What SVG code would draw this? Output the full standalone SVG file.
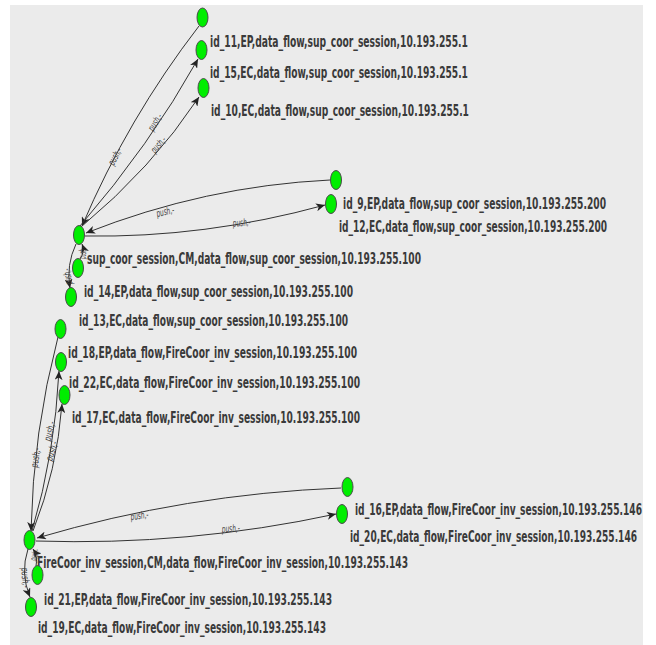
<svg xmlns="http://www.w3.org/2000/svg" width="656" height="645" viewBox="0 0 656 645">
<defs>
<style>
.bg{fill:#ebebeb}
.node{fill:#00ee00;stroke:#4a4a4a;stroke-width:1}
.lbl{font-family:"DejaVu Sans Condensed","DejaVu Sans",sans-serif;font-weight:bold;font-size:15px;fill:#3a3a3a}
.edge{fill:none;stroke:#333;stroke-width:1}
.el{font-family:"DejaVu Sans",sans-serif;font-size:10px;fill:#3a3a3a;font-style:italic}
</style>
<marker id="arr" markerWidth="9" markerHeight="8" refX="9" refY="4" orient="auto" markerUnits="userSpaceOnUse">
<path d="M0,0 L9,4 L0,8 L2.5,4 z" fill="#222"/>
</marker>
</defs>
<rect x="0" y="0" width="656" height="645" fill="#ffffff"/>
<rect class="bg" x="10" y="5" width="633" height="640"/>

<g id="connectors">
<path class="edge" d="M199,26 Q128,118 82,226" marker-end="url(#arr)"/>
<path class="edge" d="M80,226 Q150,145 198,59" marker-end="url(#arr)"/>
<path class="edge" d="M81,227 Q152,168 199,97" marker-end="url(#arr)"/>
<path class="edge" d="M330,180 Q205,186 86,233" marker-end="url(#arr)"/>
<path class="edge" d="M85,236 Q205,238 325,205" marker-end="url(#arr)"/>
<path class="edge" d="M80,259 Q85,252 82,244" marker-end="url(#arr)"/>
<path class="edge" d="M76,244 Q66,265 70,288" marker-end="url(#arr)"/>
<path class="edge" d="M58,337 Q33,432 31,531" marker-end="url(#arr)"/>
<path class="edge" d="M32,531 Q55,453 59,371" marker-end="url(#arr)"/>
<path class="edge" d="M33,531 Q57,470 62,404" marker-end="url(#arr)"/>
<path class="edge" d="M341,488 Q186,494 37,538" marker-end="url(#arr)"/>
<path class="edge" d="M36,541 Q188,546 336,514" marker-end="url(#arr)"/>
<path class="edge" d="M36,566 Q38,556 33,549" marker-end="url(#arr)"/>
<path class="edge" d="M28,549 Q20,573 30,597" marker-end="url(#arr)"/>
<text class="el" transform="translate(118,158) rotate(-62)" text-anchor="middle" textLength="18" lengthAdjust="spacingAndGlyphs">push,-</text>
<text class="el" transform="translate(158,124) rotate(-58)" text-anchor="middle" textLength="18" lengthAdjust="spacingAndGlyphs">push,-</text>
<text class="el" transform="translate(161,147) rotate(-50)" text-anchor="middle" textLength="18" lengthAdjust="spacingAndGlyphs">push,-</text>
<text class="el" transform="translate(166,215) rotate(-13)" text-anchor="middle" textLength="18" lengthAdjust="spacingAndGlyphs">push,-</text>
<text class="el" transform="translate(242,226) rotate(-5)" text-anchor="middle" textLength="18" lengthAdjust="spacingAndGlyphs">push,-</text>
<text class="el" transform="translate(86,253) rotate(-85)" text-anchor="middle" textLength="12" lengthAdjust="spacingAndGlyphs">push,-</text>
<text class="el" transform="translate(71,276) rotate(-100)" text-anchor="middle" textLength="16" lengthAdjust="spacingAndGlyphs">push,-</text>
<text class="el" transform="translate(39,458) rotate(-82)" text-anchor="middle" textLength="20" lengthAdjust="spacingAndGlyphs">push,-</text>
<text class="el" transform="translate(53,432) rotate(-76)" text-anchor="middle" textLength="20" lengthAdjust="spacingAndGlyphs">push,-</text>
<text class="el" transform="translate(55,452) rotate(-72)" text-anchor="middle" textLength="20" lengthAdjust="spacingAndGlyphs">push,-</text>
<text class="el" transform="translate(140,519) rotate(-8)" text-anchor="middle" textLength="18" lengthAdjust="spacingAndGlyphs">push,-</text>
<text class="el" transform="translate(231,532) rotate(-4)" text-anchor="middle" textLength="18" lengthAdjust="spacingAndGlyphs">push,-</text>
<text class="el" transform="translate(38,556) rotate(-70)" text-anchor="middle" textLength="12" lengthAdjust="spacingAndGlyphs">push,-</text>
<text class="el" transform="translate(22,578) rotate(85)" text-anchor="middle" textLength="20" lengthAdjust="spacingAndGlyphs">push,-</text>
</g>

<g id="n_id11"><ellipse class="node" cx="202.5" cy="17.5" rx="5.5" ry="9.5"/><text class="lbl" transform="translate(210,47) scale(0.72,1)" textLength="358.3" lengthAdjust="spacingAndGlyphs">id_11,EP,data_flow,sup_coor_session,10.193.255.1</text></g>
<g id="n_id15"><ellipse class="node" cx="201.5" cy="50" rx="5.5" ry="9.5"/><text class="lbl" transform="translate(210,78) scale(0.72,1)" textLength="358.3" lengthAdjust="spacingAndGlyphs">id_15,EC,data_flow,sup_coor_session,10.193.255.1</text></g>
<g id="n_id10"><ellipse class="node" cx="203.5" cy="88" rx="5.5" ry="9.5"/><text class="lbl" transform="translate(211,116) scale(0.72,1)" textLength="358.3" lengthAdjust="spacingAndGlyphs">id_10,EC,data_flow,sup_coor_session,10.193.255.1</text></g>
<g id="n_id9"><ellipse class="node" cx="336" cy="180" rx="5.5" ry="9.5"/><text class="lbl" transform="translate(343,209) scale(0.72,1)" textLength="365.3" lengthAdjust="spacingAndGlyphs">id_9,EP,data_flow,sup_coor_session,10.193.255.200</text></g>
<g id="n_id12"><ellipse class="node" cx="331" cy="204" rx="5.5" ry="9.5"/><text class="lbl" transform="translate(339,232) scale(0.72,1)" textLength="372.2" lengthAdjust="spacingAndGlyphs">id_12,EC,data_flow,sup_coor_session,10.193.255.200</text></g>
<g id="n_supcm"><ellipse class="node" cx="79" cy="235" rx="5.5" ry="9.5"/><text class="lbl" transform="translate(87,264) scale(0.72,1)" textLength="463.9" lengthAdjust="spacingAndGlyphs">sup_coor_session,CM,data_flow,sup_coor_session,10.193.255.100</text></g>
<g id="n_id14"><ellipse class="node" cx="78" cy="268" rx="5.5" ry="9.5"/><text class="lbl" transform="translate(84,297) scale(0.72,1)" textLength="373.6" lengthAdjust="spacingAndGlyphs">id_14,EP,data_flow,sup_coor_session,10.193.255.100</text></g>
<g id="n_id13"><ellipse class="node" cx="71" cy="297" rx="5.5" ry="9.5"/><text class="lbl" transform="translate(79,326) scale(0.72,1)" textLength="373.6" lengthAdjust="spacingAndGlyphs">id_13,EC,data_flow,sup_coor_session,10.193.255.100</text></g>
<g id="n_id18"><ellipse class="node" cx="60.5" cy="329" rx="5.5" ry="9.5"/><text class="lbl" transform="translate(68,358) scale(0.72,1)" textLength="401.4" lengthAdjust="spacingAndGlyphs">id_18,EP,data_flow,FireCoor_inv_session,10.193.255.100</text></g>
<g id="n_id22"><ellipse class="node" cx="61" cy="362" rx="5.5" ry="9.5"/><text class="lbl" transform="translate(69,388) scale(0.72,1)" textLength="404.2" lengthAdjust="spacingAndGlyphs">id_22,EC,data_flow,FireCoor_inv_session,10.193.255.100</text></g>
<g id="n_id17"><ellipse class="node" cx="64.5" cy="395" rx="5.5" ry="9.5"/><text class="lbl" transform="translate(72,423) scale(0.72,1)" textLength="400" lengthAdjust="spacingAndGlyphs">id_17,EC,data_flow,FireCoor_inv_session,10.193.255.100</text></g>
<g id="n_id16"><ellipse class="node" cx="347.5" cy="487" rx="5.5" ry="9.5"/><text class="lbl" transform="translate(355,515) scale(0.6,1)" textLength="478.3" lengthAdjust="spacingAndGlyphs">id_16,EP,data_flow,FireCoor_inv_session,10.193.255.146</text></g>
<g id="n_id20"><ellipse class="node" cx="342" cy="514" rx="5.5" ry="9.5"/><text class="lbl" transform="translate(350,542) scale(0.6,1)" textLength="478.3" lengthAdjust="spacingAndGlyphs">id_20,EC,data_flow,FireCoor_inv_session,10.193.255.146</text></g>
<g id="n_firecm"><ellipse class="node" cx="29.5" cy="540" rx="5.5" ry="9.5"/><text class="lbl" transform="translate(37,568) scale(0.72,1)" textLength="515.3" lengthAdjust="spacingAndGlyphs">FireCoor_inv_session,CM,data_flow,FireCoor_inv_session,10.193.255.143</text></g>
<g id="n_id21"><ellipse class="node" cx="37.5" cy="575" rx="5.5" ry="9.5"/><text class="lbl" transform="translate(44,605) scale(0.72,1)" textLength="400" lengthAdjust="spacingAndGlyphs">id_21,EP,data_flow,FireCoor_inv_session,10.193.255.143</text></g>
<g id="n_id19"><ellipse class="node" cx="31" cy="607" rx="5.5" ry="9.5"/><text class="lbl" transform="translate(38,633) scale(0.72,1)" textLength="400" lengthAdjust="spacingAndGlyphs">id_19,EC,data_flow,FireCoor_inv_session,10.193.255.143</text></g>
</svg>
